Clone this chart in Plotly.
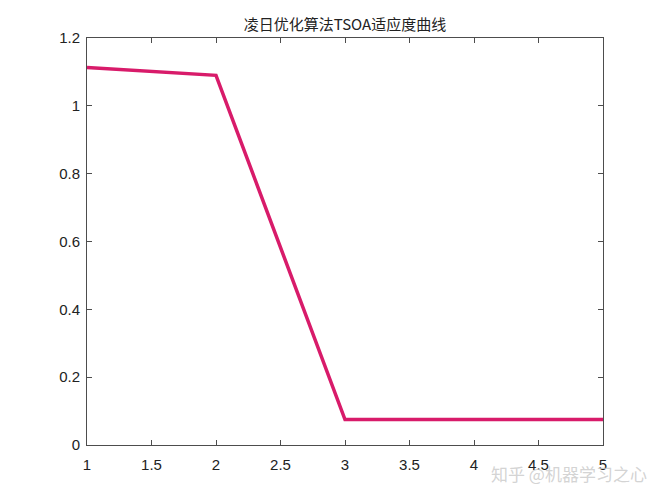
import plotly.graph_objects as go

# 迭代次数与适应度值
iterations = [1, 2, 3, 4, 5]
fitness = [1.113, 1.090, 0.075, 0.075, 0.075]

x_ticks = [1, 1.5, 2, 2.5, 3, 3.5, 4, 4.5, 5]
y_ticks = [0, 0.2, 0.4, 0.6, 0.8, 1, 1.2]

fig = go.Figure()
fig.add_trace(go.Scatter(x=iterations, y=fitness, mode="lines",
                         line=dict(color="#d81b6a", width=3.5)))

axis_style = dict(showline=True, linecolor="#4d4d4d", linewidth=1, mirror="ticks",
                  ticks="inside", ticklen=5, tickcolor="#4d4d4d", showgrid=False,
                  zeroline=False, tickfont=dict(family="Liberation Sans, Arial", size=15, color="#222"))

# 页面 body 自带 8px 边距，尺寸相应缩小
fig.update_layout(
    width=659, height=492,
    paper_bgcolor="white", plot_bgcolor="white",
    margin=dict(l=79, r=64, t=30, b=55),
    showlegend=False,
    title=dict(text="凌日优化算法TSOA适应度曲线", x=0.5, xanchor="center", y=0.965, yanchor="middle",
               xref="paper",
               font=dict(family="Noto Sans CJK SC", size=15, color="#222")),
    xaxis=dict(range=[1, 5], tickvals=x_ticks, ticktext=[str(v) for v in x_ticks],
               ticklabelstandoff=6, **axis_style),
    yaxis=dict(range=[0, 1.2], tickvals=y_ticks, ticktext=[str(v) for v in y_ticks],
               ticklabelstandoff=3, **axis_style),
)

# 水印
fig.add_annotation(text="知乎 @机器学习之心", xref="paper", yref="paper", x=1.09, y=-0.071,
                   xanchor="right", yanchor="middle", showarrow=False,
                   font=dict(family="Noto Sans CJK SC", size=17, color="rgba(200,200,200,0.8)"))

fig.write_html("out.html")
